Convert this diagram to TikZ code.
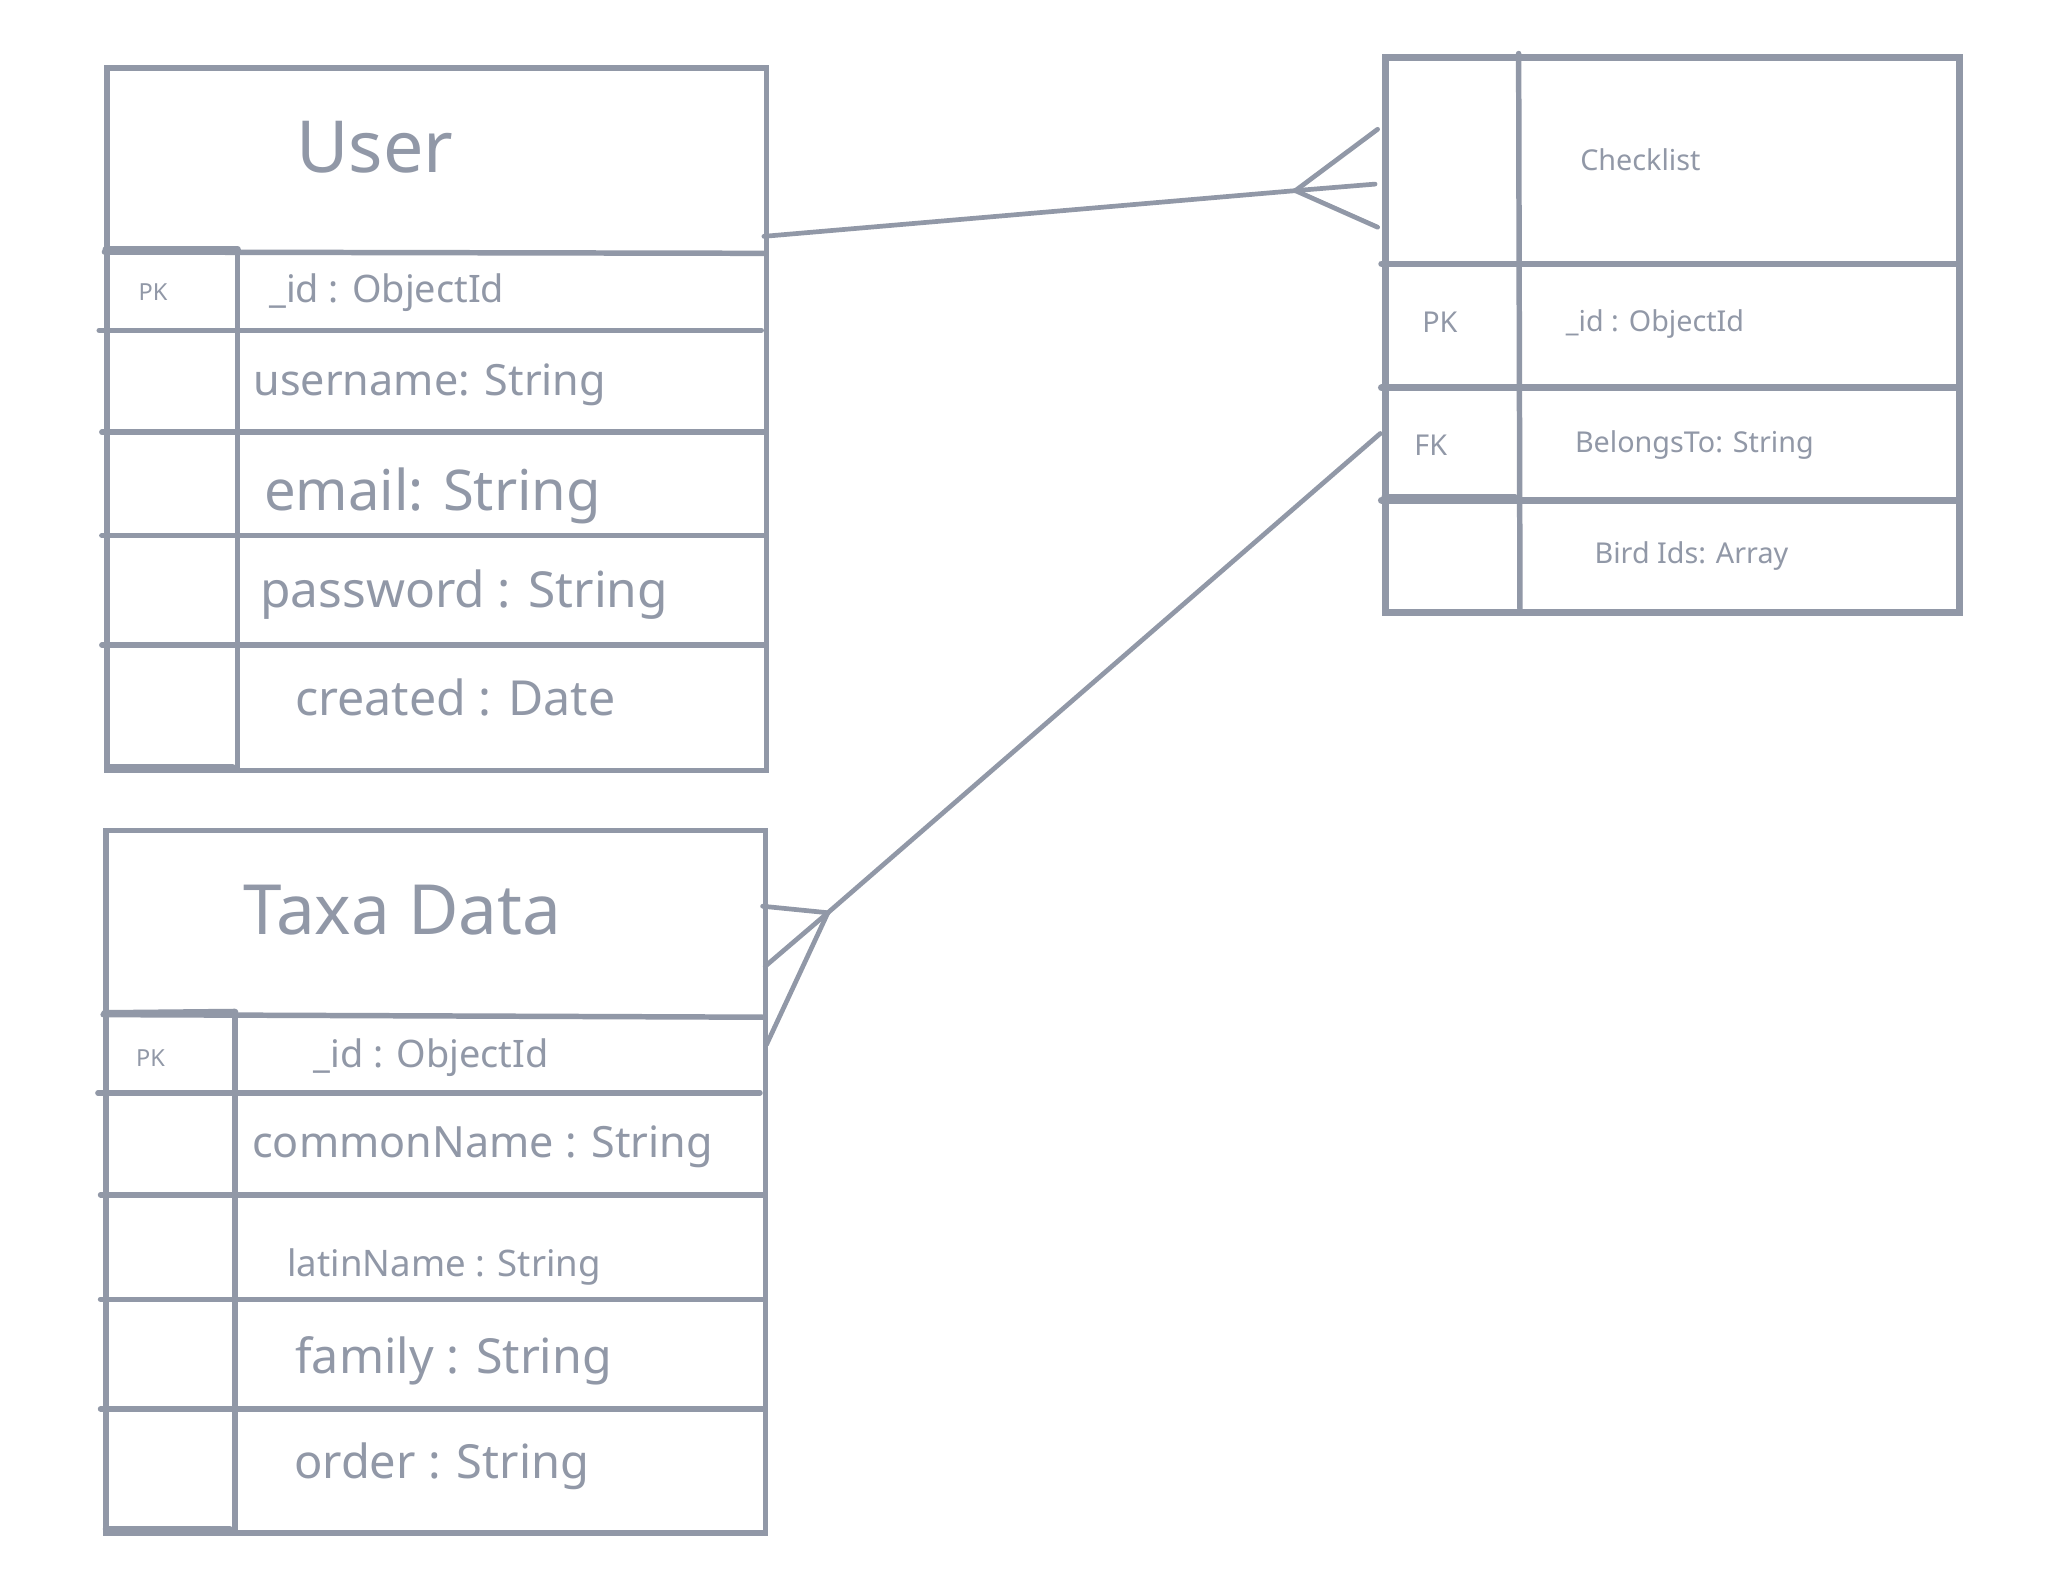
\documentclass[tikz,border=0pt]{standalone}
\usepackage{fontspec}
\setmainfont{Noto Sans}
\definecolor{ink}{RGB}{145,152,167}
\tikzset{
  tbl/.style={draw=ink, line width=4.2pt, rectangle, inner sep=0pt, anchor=north west},
  rule/.style={draw=ink, line width=4.2pt, line cap=round},
  conn/.style={draw=ink, line width=3.6pt, line cap=round},
  lbl/.style={text=ink, inner sep=0pt, anchor=west},
  ttl/.style={text=ink, inner sep=0pt},
}
\begin{document}
\begin{tikzpicture}[x=1pt,y=-1pt]
\useasboundingbox (0,0) rectangle (1573,1207);
\fill[white] (0,0) rectangle (1573,1207);

% ---------- User ----------
\node[tbl, minimum width=505pt, minimum height=538pt] (user) at (80,50) {};
\draw[rule] (80,193) -- (585,194);
\draw[rule, line width=5pt] (81,191) -- (182,191);
\draw[rule] (182,192) -- (182,588);
\draw[rule] (76,253) -- (583,253);
\draw[rule] (78,331) -- (585,331);
\draw[rule] (78,410) -- (585,410);
\draw[rule] (78,494) -- (585,494);
\draw[rule, line width=4.6pt] (82,587) -- (178,587);
\node[ttl, font=\fontsize{55}{55}\selectfont] (usert) at (287,113) {User};
\node[lbl, font=\fontsize{18}{18}\selectfont] (userpk) at (106,224) {PK};
\node[lbl, font=\fontsize{29}{29}\selectfont] (userid) at (206,224) {\_id : ObjectId};
\node[lbl, font=\fontsize{33}{33}\selectfont] (username) at (194,295) {username: String};
\node[lbl, font=\fontsize{43}{43}\selectfont] (useremail) at (202,380) {email: String};
\node[lbl, font=\fontsize{38}{38}\selectfont] (userpw) at (199,455) {password : String};
\node[lbl, font=\fontsize{37}{37}\selectfont] (usercr) at (226,534) {created : Date};

% ---------- Taxa Data ----------
\node[tbl, minimum width=505pt, minimum height=538pt] (taxa) at (79,634) {};
\draw[rule] (79,777) -- (584,779);
\draw[rule, line width=5pt] (80,776) -- (180,775);
\draw[rule] (180,776) -- (180,1172);
\draw[rule] (75,837) -- (582,837);
\draw[rule] (77,915) -- (584,915);
\draw[rule] (77,995) -- (584,995);
\draw[rule] (77,1079) -- (584,1079);
\draw[rule, line width=4.6pt] (81,1171) -- (176,1171);
\node[ttl, font=\fontsize{53}{53}\selectfont] (taxat) at (308,697) {Taxa Data};
\node[lbl, font=\fontsize{18}{18}\selectfont] (taxapk) at (104,810) {PK};
\node[lbl, font=\fontsize{29}{29}\selectfont] (taxaid) at (240,810) {\_id : ObjectId};
\node[lbl, font=\fontsize{33}{33}\selectfont] (taxacn) at (193,878) {commonName : String};
\node[lbl, font=\fontsize{28}{28}\selectfont] (taxaln) at (220,970) {latinName : String};
\node[lbl, font=\fontsize{37}{37}\selectfont] (taxafa) at (226,1042) {family : String};
\node[lbl, font=\fontsize{36}{36}\selectfont] (taxaor) at (225,1123) {order : String};

% ---------- Checklist ----------
\node[tbl, line width=5.5pt, minimum width=440pt, minimum height=425pt] (check) at (1058,41) {};
\draw[rule, line width=5pt] (1058,202) -- (1498,202);
\draw[rule, line width=5.5pt] (1058,297) -- (1498,297);
\draw[rule, line width=5.5pt] (1058,383) -- (1498,383);
\draw[rule, line width=4pt] (1060,380) -- (1160,380);
\draw[rule] (1163,41) -- (1164,466);
\node[lbl, font=\fontsize{22}{22}\selectfont] (checkt) at (1210,122) {Checklist};
\node[lbl, font=\fontsize{22}{22}\selectfont] (checkpk) at (1089,247) {PK};
\node[lbl, font=\fontsize{22}{22}\selectfont] (checkid) at (1199,248) {\_id : ObjectId};
\node[lbl, font=\fontsize{22}{22}\selectfont] (checkfk) at (1083,341) {FK};
\node[lbl, font=\fontsize{22}{22}\selectfont] (checkbt) at (1206,341) {BelongsTo: String};
\node[lbl, font=\fontsize{22}{22}\selectfont] (checkbi) at (1221,426) {Bird Ids: Array};

% ---------- Connectors ----------
\coordinate (u1) at (585,181);
\coordinate (f1) at (992,146);
\coordinate (c1a) at (1055,99);
\coordinate (c1b) at (1053,141);
\coordinate (c1c) at (1055,174);
\draw[conn] (u1) -- (f1);
\draw[conn] (f1) -- (c1a);
\draw[conn] (f1) -- (c1b);
\draw[conn] (f1) -- (c1c);

\coordinate (c2) at (1057,332);
\coordinate (f2) at (634,699);
\coordinate (t2a) at (584,694);
\coordinate (t2b) at (586,740);
\coordinate (t2c) at (587,800);
\draw[conn] (c2) -- (f2);
\draw[conn] (f2) -- (t2a);
\draw[conn] (f2) -- (t2b);
\draw[conn] (f2) -- (t2c);
\end{tikzpicture}
\end{document}
